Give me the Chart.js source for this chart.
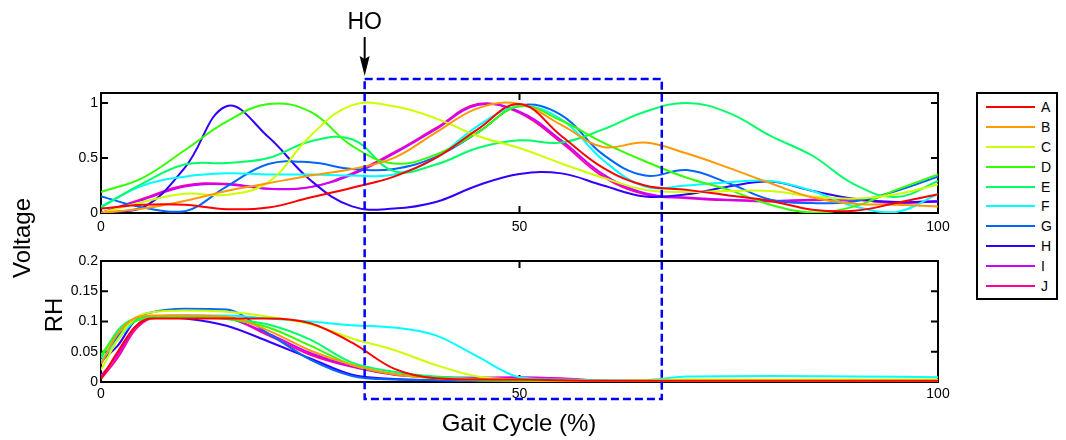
<!DOCTYPE html>
<html>
<head>
<meta charset="utf-8">
<script src="https://cdn.jsdelivr.net/npm/chart.js@4"></script>
<style>
    body { margin: 0; background: #fff; }
    #wrap { position: relative; width: 1066px; height: 440px; font-family: "Liberation Sans", Arial, sans-serif; color: #000; }
    #wrap canvas { position: absolute; left: 0; top: 0; }
    .title { position: absolute; font-size: 24px; line-height: 24px; white-space: nowrap; color: #000; transform: translate(-50%, -50%); }
    .rot { transform: translate(-50%, -50%) rotate(-90deg); }
    #legend { position: absolute; left: 976px; top: 92px; width: 78px; height: 201px; border: 2px solid #000; background: #fff; padding-top: 3px; box-sizing: content-box; }
    .item { display: flex; align-items: center; height: 19.9px; font-size: 14px; color: #000; }
    .swatch { width: 49px; height: 2px; margin-left: 8px; margin-right: 6px; }
</style>
</head>
<body>
<div id="wrap">
    <canvas id="voltChart" width="1066" height="440"></canvas>
    <canvas id="rhChart" width="1066" height="440"></canvas>
    <div class="title rot" style="left:22px; top:238px;">Voltage</div>
    <div class="title rot" style="left:54px; top:315px;">RH</div>
    <div class="title" style="left:519px; top:423px;">Gait Cycle (%)</div>
    <div class="title" id="hoLabel" style="left:366px; top:21px; font-size:23px;">HO</div>
    <div id="legend"></div>
</div>
<script>
// x grid (% of gait cycle)
const gait = [0, 5, 10, 15, 20, 25, 30, 35, 40, 45, 50, 55, 60, 65, 70, 75, 80, 85, 90, 95, 100];
const rhGait = [0, 2, 4, 6, 10, 15, 20, 25, 30, 35, 40, 45, 50, 55, 60, 65, 70, 80, 90, 100];

const names = ['A', 'B', 'C', 'D', 'E', 'F', 'G', 'H', 'I', 'J'];
const colors = ['#ff0000', '#ff9900', '#ccff00', '#33ff00', '#00ff66', '#00ffff', '#0066ff', '#3300ff', '#cc00ff', '#ff0099'];

// top panel: normalised voltage
const voltA = [0.04, 0.075, 0.075, 0.035, 0.05, 0.14, 0.23, 0.33, 0.5, 0.76, 0.99, 0.7, 0.41, 0.25, 0.21, 0.16, 0.11, 0.03, 0.02, 0.09, 0.17];
const voltB = [0, 0.04, 0.11, 0.2, 0.27, 0.34, 0.4, 0.5, 0.73, 0.95, 0.99, 0.8, 0.6, 0.64, 0.54, 0.41, 0.27, 0.14, 0.085, 0.075, 0.06];
const voltC = [0, 0.1, 0.175, 0.165, 0.28, 0.7, 0.98, 0.97, 0.86, 0.7, 0.59, 0.45, 0.32, 0.21, 0.19, 0.2, 0.2, 0.15, 0.13, 0.17, 0.26];
const voltD = [0.19, 0.32, 0.57, 0.83, 0.99, 0.92, 0.61, 0.45, 0.53, 0.73, 0.97, 0.84, 0.64, 0.47, 0.32, 0.21, 0.075, 0.005, 0.06, 0.21, 0.35];
const voltE = [0.05, 0.27, 0.44, 0.455, 0.5, 0.65, 0.67, 0.38, 0.44, 0.59, 0.66, 0.64, 0.76, 0.92, 1.0, 0.91, 0.7, 0.52, 0.26, 0.145, 0.29];
const voltF = [0.06, 0.25, 0.33, 0.36, 0.35, 0.35, 0.34, 0.35, 0.5, 0.79, 0.97, 0.85, 0.48, 0.24, 0.25, 0.28, 0.29, 0.2, 0.06, 0.01, 0.17];
const voltG = [0.15, 0.05, 0.015, 0.24, 0.445, 0.46, 0.4, 0.4, 0.51, 0.73, 0.975, 0.89, 0.53, 0.34, 0.39, 0.27, 0.12, 0.09, 0.105, 0.2, 0.33];
const voltH = [0, 0.05, 0.41, 0.97, 0.69, 0.3, 0.06, 0.04, 0.1, 0.25, 0.355, 0.36, 0.25, 0.15, 0.17, 0.24, 0.285, 0.2, 0.13, 0.1, 0.105];
const voltI = [0, 0.12, 0.24, 0.26, 0.22, 0.235, 0.35, 0.54, 0.76, 0.98, 0.92, 0.66, 0.35, 0.18, 0.14, 0.12, 0.11, 0.12, 0.12, 0.095, 0.11];
const voltJ = [0, 0.13, 0.25, 0.265, 0.22, 0.235, 0.36, 0.55, 0.77, 0.99, 0.91, 0.64, 0.33, 0.17, 0.135, 0.115, 0.105, 0.115, 0.12, 0.09, 0.105];

// bottom panel: RH
const rhA = [0.005, 0.05, 0.09, 0.105, 0.105, 0.105, 0.105, 0.097, 0.065, 0.022, 0.006, 0.004, 0.004, 0.003, 0.002, 0.002, 0.002, 0.002, 0.002, 0.002];
const rhB = [0.03, 0.08, 0.105, 0.11, 0.11, 0.108, 0.085, 0.052, 0.028, 0.013, 0.006, 0.004, 0.003, 0.002, 0.001, 0.001, 0.001, 0.001, 0.001, 0.001];
const rhC = [0.02, 0.07, 0.105, 0.115, 0.118, 0.116, 0.108, 0.096, 0.072, 0.053, 0.028, 0.009, 0.004, 0.003, 0.002, 0.003, 0.004, 0.004, 0.004, 0.004];
const rhD = [0.045, 0.08, 0.1, 0.105, 0.107, 0.104, 0.09, 0.06, 0.028, 0.013, 0.006, 0.003, 0.002, 0.001, 0.001, 0.001, 0.001, 0.001, 0.001, 0.001];
const rhE = [0.04, 0.085, 0.105, 0.108, 0.108, 0.105, 0.095, 0.07, 0.032, 0.017, 0.009, 0.005, 0.003, 0.002, 0.001, 0.001, 0.001, 0.001, 0.001, 0.001];
const rhF = [0.035, 0.07, 0.1, 0.108, 0.11, 0.11, 0.105, 0.1, 0.094, 0.09, 0.077, 0.042, 0.008, 0.004, 0.003, 0.003, 0.009, 0.01, 0.009, 0.008];
const rhG = [0.03, 0.075, 0.105, 0.115, 0.121, 0.12, 0.08, 0.037, 0.01, 0.004, 0.003, 0.002, 0.002, 0.001, 0.001, 0.001, 0.001, 0.001, 0.001, 0.001];
const rhH = [0.035, 0.06, 0.1, 0.108, 0.105, 0.093, 0.067, 0.039, 0.012, 0.005, 0.003, 0.002, 0.002, 0.001, 0.001, 0.001, 0.001, 0.001, 0.001, 0.001];
const rhI = [0.01, 0.045, 0.09, 0.108, 0.11, 0.106, 0.08, 0.048, 0.026, 0.013, 0.008, 0.007, 0.007, 0.005, 0.002, 0.001, 0.001, 0.001, 0.001, 0.001];
const rhJ = [0.005, 0.04, 0.085, 0.105, 0.109, 0.106, 0.077, 0.045, 0.025, 0.012, 0.008, 0.007, 0.008, 0.006, 0.002, 0.001, 0.001, 0.001, 0.001, 0.001];

const gaitTicks = [0, 50, 100];
const voltTicks = [0, 0.5, 1];
const rhTicks = [0, 0.05, 0.1, 0.15, 0.2];

// heel-off window (% gait)
const hoStart = 31.5;
const hoEnd = 67;

const voltSeries = [voltA, voltB, voltC, voltD, voltE, voltF, voltG, voltH, voltI, voltJ];
const rhSeries = [rhA, rhB, rhC, rhD, rhE, rhF, rhG, rhH, rhI, rhJ];

Chart.defaults.font.family = '"Liberation Sans", Arial, sans-serif';
Chart.defaults.font.size = 14;
Chart.defaults.color = '#000';

// MATLAB style box with inward ticks on all four sides
const boxPlugin = {
    id: 'box',
    beforeDatasetsDraw(chart) {
        const { ctx, chartArea: a, scales } = chart;
        const t = 7;
        ctx.save();
        ctx.strokeStyle = '#000';
        ctx.lineWidth = 2;
        ctx.beginPath();
        scales.x.ticks.forEach(tk => {
            const px = scales.x.getPixelForValue(tk.value);
            ctx.moveTo(px, a.bottom); ctx.lineTo(px, a.bottom - t);
            ctx.moveTo(px, a.top); ctx.lineTo(px, a.top + t);
        });
        scales.y.ticks.forEach(tk => {
            const py = scales.y.getPixelForValue(tk.value);
            ctx.moveTo(a.left, py); ctx.lineTo(a.left + t, py);
            ctx.moveTo(a.right, py); ctx.lineTo(a.right - t, py);
        });
        ctx.stroke();
        ctx.strokeRect(a.left, a.top, a.right - a.left, a.bottom - a.top);
        ctx.restore();
    }
};

// dashed HO window + arrow, drawn on the upper canvas
const hoPlugin = {
    id: 'ho',
    afterDraw(chart) {
        const { ctx, scales } = chart;
        const x0 = scales.x.getPixelForValue(hoStart);
        const x1 = scales.x.getPixelForValue(hoEnd);
        ctx.save();
        ctx.setLineDash([8, 4]);
        ctx.strokeStyle = '#0000ff';
        ctx.lineWidth = 2.5;
        ctx.strokeRect(x0, 79, x1 - x0, 320);
        ctx.setLineDash([]);
        ctx.strokeStyle = '#000';
        ctx.fillStyle = '#000';
        ctx.lineWidth = 2;
        ctx.beginPath();
        ctx.moveTo(x0, 37);
        ctx.lineTo(x0, 62);
        ctx.stroke();
        ctx.beginPath();
        ctx.moveTo(x0 - 5, 56);
        ctx.lineTo(x0, 59);
        ctx.lineTo(x0 + 5, 56);
        ctx.lineTo(x0, 76);
        ctx.closePath();
        ctx.fill();
        ctx.restore();
        document.getElementById('hoLabel').style.left = x0 + 'px';
    }
};

function makePanel(id, xs, series, yMax, yTicks, pad, xLabelPad, smooth, extra) {
    const datasets = series.map((vals, i) => ({
        label: names[i],
        data: vals.map((v, j) => ({ x: xs[j], y: v })),
        borderColor: colors[i],
        borderWidth: 2,
        pointRadius: 0,
        fill: false,
        tension: smooth === 'monotone' ? 0 : 0.4,
        cubicInterpolationMode: smooth === 'monotone' ? 'monotone' : 'default'
    }));
    return new Chart(document.getElementById(id), {
        type: 'line',
        data: { datasets },
        options: {
            responsive: false,
            animation: false,
            layout: { padding: pad },
            plugins: { legend: { display: false }, tooltip: { enabled: false } },
            scales: {
                x: {
                    type: 'linear', min: 0, max: 100,
                    afterBuildTicks: s => { s.ticks = gaitTicks.map(v => ({ value: v })); },
                    afterFit: s => { s.height = 27; },
                    grid: { display: false, drawTicks: false },
                    border: { display: false },
                    ticks: { padding: xLabelPad, maxRotation: 0, autoSkip: false, callback: v => String(v) }
                },
                y: {
                    type: 'linear', min: 0, max: yMax,
                    afterBuildTicks: s => { s.ticks = yTicks.map(v => ({ value: v })); },
                    afterFit: s => { s.width = 30; },
                    grid: { display: false, drawTicks: false },
                    border: { display: false },
                    ticks: { padding: 3, autoSkip: false, callback: v => String(v) }
                }
            }
        },
        plugins: [boxPlugin].concat(extra)
    });
}

makePanel('voltChart', gait, voltSeries, 1.09, voltTicks,
    { left: 71, right: 128, top: 93, bottom: 200 }, 6, 'bezier', []);
makePanel('rhChart', rhGait, rhSeries, 0.2, rhTicks,
    { left: 71, right: 128, top: 261, bottom: 31 }, 4, 'monotone', [hoPlugin]);

// legend
const legend = document.getElementById('legend');
names.forEach((n, i) => {
    const row = document.createElement('div');
    row.className = 'item';
    const sw = document.createElement('span');
    sw.className = 'swatch';
    sw.style.background = colors[i];
    const txt = document.createElement('span');
    txt.textContent = n;
    row.appendChild(sw);
    row.appendChild(txt);
    legend.appendChild(row);
});
</script>
</body>
</html>
